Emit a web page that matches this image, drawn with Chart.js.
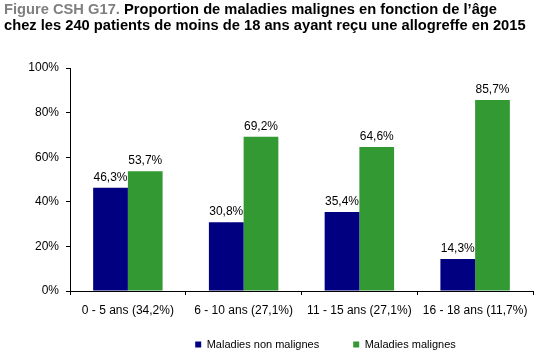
<!DOCTYPE html>
<html><head><meta charset="utf-8">
<script src="https://cdn.jsdelivr.net/npm/chart.js@4/dist/chart.umd.min.js"></script>
<style>
html,body{margin:0;padding:0;background:#fff;}
#wrap{position:relative;width:549px;height:360px;}
#title{position:absolute;left:4px;top:1px;font:bold 14.7px "Liberation Sans",Arial,sans-serif;line-height:16px;color:#000;white-space:nowrap;}
#title .fig{color:#7f7f7f;}
canvas{position:absolute;left:0;top:0;}
</style></head>
<body><div id="wrap">
<canvas id="c" width="549" height="360"></canvas>
<div id="title"><span class="fig">Figure CSH G17.</span> Proportion de maladies malignes en fonction de l’âge<br>chez les 240 patients de moins de 18 ans ayant reçu une allogreffe en 2015</div>
</div>
<script>
const categories = ["0 - 5 ans (34,2%)", "6 - 10 ans (27,1%)", "11 - 15 ans (27,1%)", "16 - 18 ans (11,7%)"];
const nonMalignes = [46.3, 30.8, 35.4, 14.3];
const malignes = [53.7, 69.2, 64.6, 85.7];
const seriesNames = ["Maladies non malignes", "Maladies malignes"];
const yTicks = [0, 20, 40, 60, 80, 100];

const FONT = "'Liberation Sans', Arial, sans-serif";

const labelPlugin = {
  id: 'valLabels',
  afterLayout(chart) {
    const lg = chart.legend;
    if (lg) { lg.left += 59; lg.right += 59; lg.top -= 16; lg.bottom -= 16; }
  },
  afterDatasetsDraw(chart) {
    const ctx = chart.ctx;
    ctx.save();
    ctx.font = "12px " + FONT;
    ctx.fillStyle = "#000";
    ctx.textAlign = "center";
    ctx.textBaseline = "alphabetic";
    chart.data.datasets.forEach((ds, i) => {
      chart.getDatasetMeta(i).data.forEach((el, j) => {
        const t = ds.data[j].toFixed(1).replace('.', ',') + '%';
        ctx.fillText(t, el.x, el.y - 7);
      });
    });
    ctx.restore();
  }
};

new Chart(document.getElementById('c'), {
  type: 'bar',
  data: {
    labels: categories,
    datasets: [
      { label: seriesNames[0], data: nonMalignes, backgroundColor: '#000080', borderWidth: 0 },
      { label: seriesNames[1], data: malignes, backgroundColor: '#339933', borderWidth: 0 }
    ]
  },
  options: {
    responsive: false,
    animation: false,
    devicePixelRatio: 1,
    layout: { padding: { top: 68, right: 16, left: 0, bottom: -16 } },
    categoryPercentage: 0.6,
    barPercentage: 1.0,
    plugins: {
      title: { display: false },
      tooltip: { enabled: false },
      legend: {
        position: 'bottom',
        labels: {
          font: { family: FONT, size: 11 },
          color: '#000',
          boxWidth: 6, boxHeight: 6,
          padding: 34
        }
      }
    },
    scales: {
      x: {
        grid: { display: true, drawOnChartArea: false, drawTicks: true, tickLength: 4, color: '#000', offset: true },
        border: { display: true, color: '#000', width: 1 },
        ticks: { font: { family: FONT, size: 12 }, color: '#000', padding: 8, maxRotation: 0, autoSkip: false },
        afterFit(s) { s.height = 30; }
      },
      y: {
        min: 0, max: 100,
        afterBuildTicks(s) { s.ticks = yTicks.map(v => ({ value: v })); },
        grid: { display: true, drawOnChartArea: false, drawTicks: true, tickLength: 4, color: '#000' },
        border: { display: true, color: '#000', width: 1 },
        ticks: { font: { family: FONT, size: 12 }, color: '#000', padding: 7, callback: v => v + '%' },
        afterFit(s) { s.width = 70; }
      }
    }
  },
  plugins: [labelPlugin]
});
</script>
</body></html>
